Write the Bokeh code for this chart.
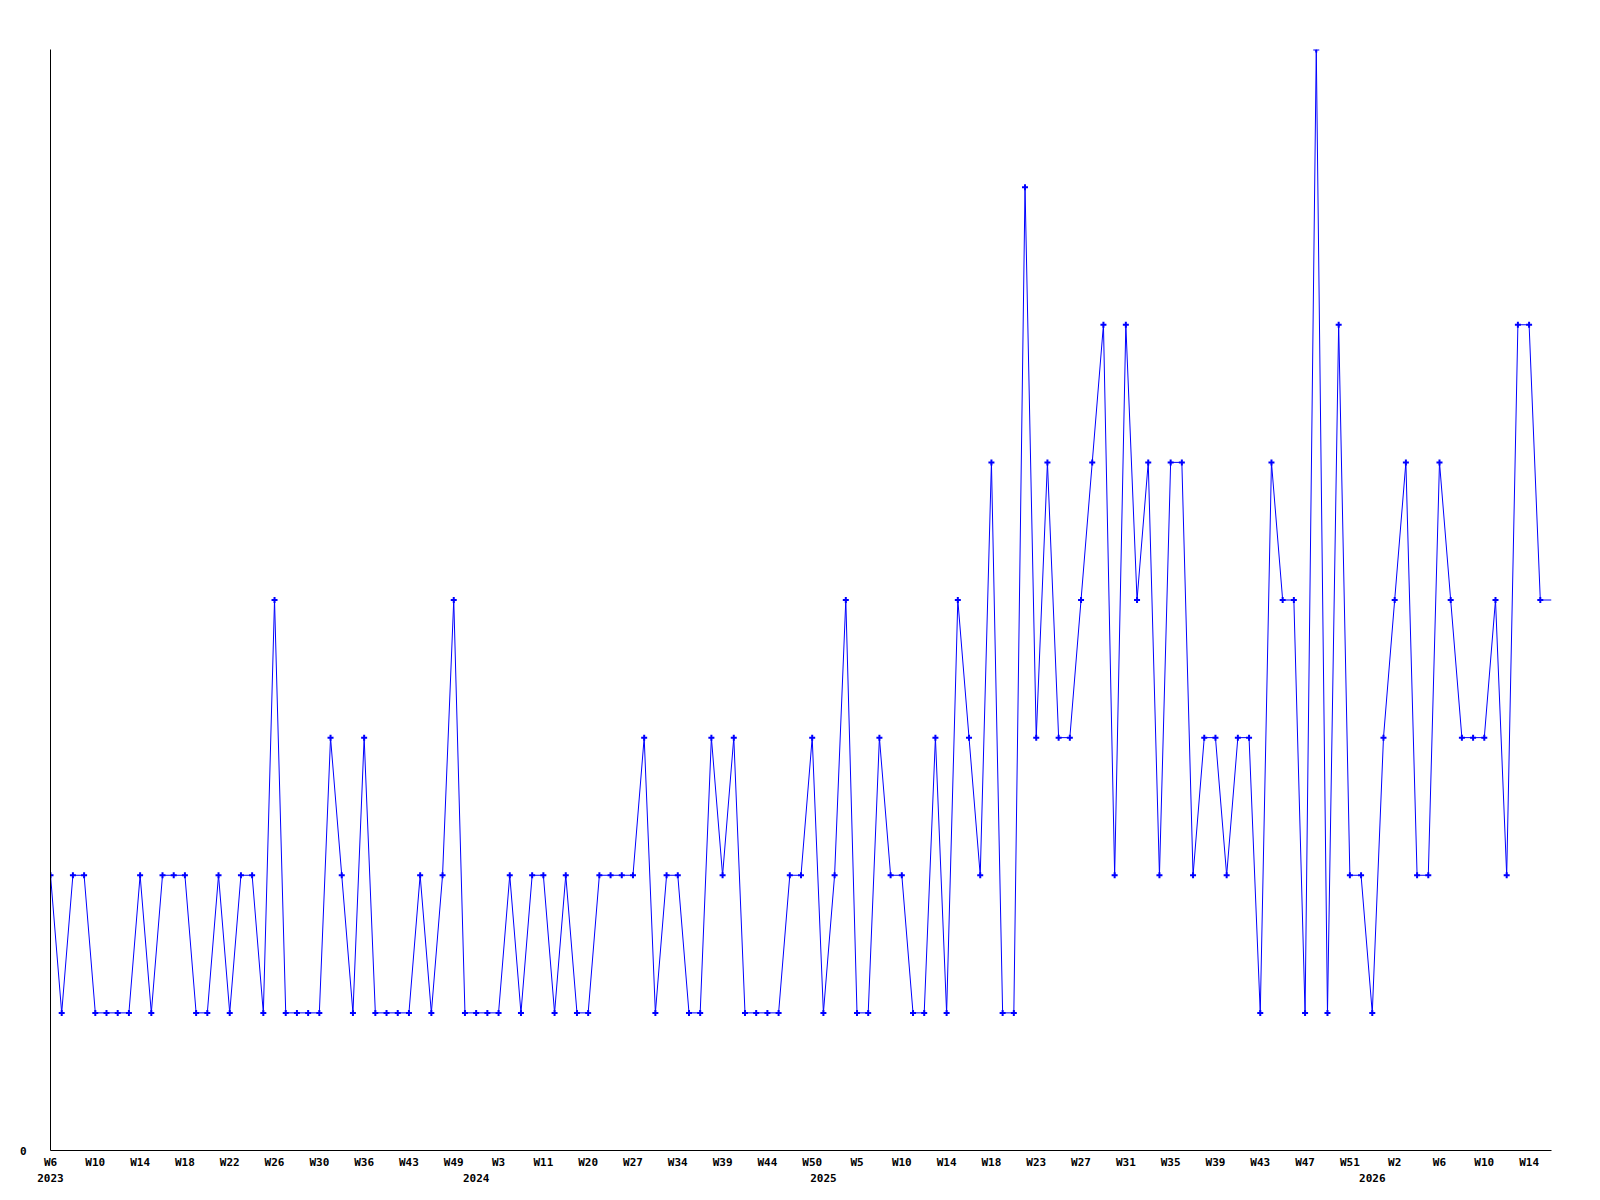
from bokeh.plotting import figure
from bokeh.models import FixedTicker, LinearAxis, Range1d, ColumnDataSource
from bokeh.embed import file_html
from bokeh.resources import INLINE

# weekly counts, one per data point (last entry is the open, unmarked current week)
values = [2, 1, 2, 2, 1, 1, 1, 1, 2, 1, 2, 2, 2, 1, 1, 2, 1, 2, 2, 1,
          4, 1, 1, 1, 1, 3, 2, 1, 3, 1, 1, 1, 1, 2, 1, 2, 4, 1, 1, 1,
          1, 2, 1, 2, 2, 1, 2, 1, 1, 2, 2, 2, 2, 3, 1, 2, 2, 1, 1, 3,
          2, 3, 1, 1, 1, 1, 2, 2, 3, 1, 2, 4, 1, 1, 3, 2, 2, 1, 1, 3,
          1, 4, 3, 2, 5, 1, 1, 7, 3, 5, 3, 3, 4, 5, 6, 2, 6, 4, 5, 2,
          5, 5, 2, 3, 3, 2, 3, 3, 1, 5, 4, 4, 1, 8, 1, 6, 2, 2, 1, 3,
          4, 5, 2, 2, 5, 4, 3, 3, 3, 4, 2, 6, 6, 4, 4]

week_labels = ["W6", "W10", "W14", "W18", "W22", "W26", "W30", "W36", "W43", "W49",
               "W3", "W11", "W20", "W27", "W34", "W39", "W44", "W50",
               "W5", "W10", "W14", "W18", "W23", "W27", "W31", "W35", "W39", "W43", "W47", "W51",
               "W2", "W6", "W10", "W14"]
week_label_step = 4

year_labels = ["2023", "2024", "2025", "2026"]
year_positions = [0, 38, 69, 118]

y_ticks = [0]
y_max = 8

n_marked = len(values) - 1
xs = list(range(len(values)))

line_src = ColumnDataSource(dict(x=xs, y=values))
mark_src = ColumnDataSource(dict(x=xs[:n_marked], y=values[:n_marked]))

FONT = "DejaVu Sans Mono"

p = figure(width=1584, height=1196, output_backend="svg", toolbar_location=None,
           x_range=Range1d(0, len(values) - 1), y_range=Range1d(0, y_max),
           min_border_left=50, min_border_top=49, min_border_right=33, min_border_bottom=46,
           x_axis_type=None, y_axis_type=None)
p.outline_line_color = None
p.background_fill_color = "white"
p.border_fill_color = "white"

p.line("x", "y", source=line_src, line_color="#0000ff", line_width=1)
p.scatter("x", "y", source=mark_src, marker="cross", size=6, line_width=2, line_color="#0000ff")

# y axis: only the zero label
yaxis = LinearAxis(ticker=FixedTicker(ticks=y_ticks))
yaxis.axis_line_color = "black"
yaxis.major_tick_out = 0
yaxis.major_tick_in = 0
yaxis.minor_tick_out = 0
yaxis.minor_tick_in = 0
yaxis.major_label_standoff = 24
yaxis.major_label_text_font = FONT
yaxis.major_label_text_font_style = "bold"
yaxis.major_label_text_font_size = "11px"
yaxis.major_label_text_color = "black"
p.add_layout(yaxis, "left")

# x axis: week labels
tick_pos = [i * week_label_step for i in range(len(week_labels))]
xaxis = LinearAxis(ticker=FixedTicker(ticks=tick_pos))
xaxis.major_label_overrides = {t: lab for t, lab in zip(tick_pos, week_labels)}
xaxis.axis_line_color = "black"
xaxis.major_tick_out = 0
xaxis.major_tick_in = 0
xaxis.minor_tick_out = 0
xaxis.minor_tick_in = 0
xaxis.major_label_standoff = 5
xaxis.major_label_text_font = FONT
xaxis.major_label_text_font_style = "bold"
xaxis.major_label_text_font_size = "11px"
xaxis.major_label_text_color = "black"
p.add_layout(xaxis, "below")

# second row: years
yr_axis = LinearAxis(ticker=FixedTicker(ticks=year_positions))
yr_axis.major_label_overrides = {t: lab for t, lab in zip(year_positions, year_labels)}
yr_axis.axis_line_color = None
yr_axis.major_tick_out = 0
yr_axis.major_tick_in = 0
yr_axis.minor_tick_out = 0
yr_axis.minor_tick_in = 0
yr_axis.major_label_standoff = 2
yr_axis.major_label_text_font = FONT
yr_axis.major_label_text_font_style = "bold"
yr_axis.major_label_text_font_size = "11px"
yr_axis.major_label_text_color = "black"
p.add_layout(yr_axis, "below")

open("out.html", "w").write(file_html(p, INLINE))
